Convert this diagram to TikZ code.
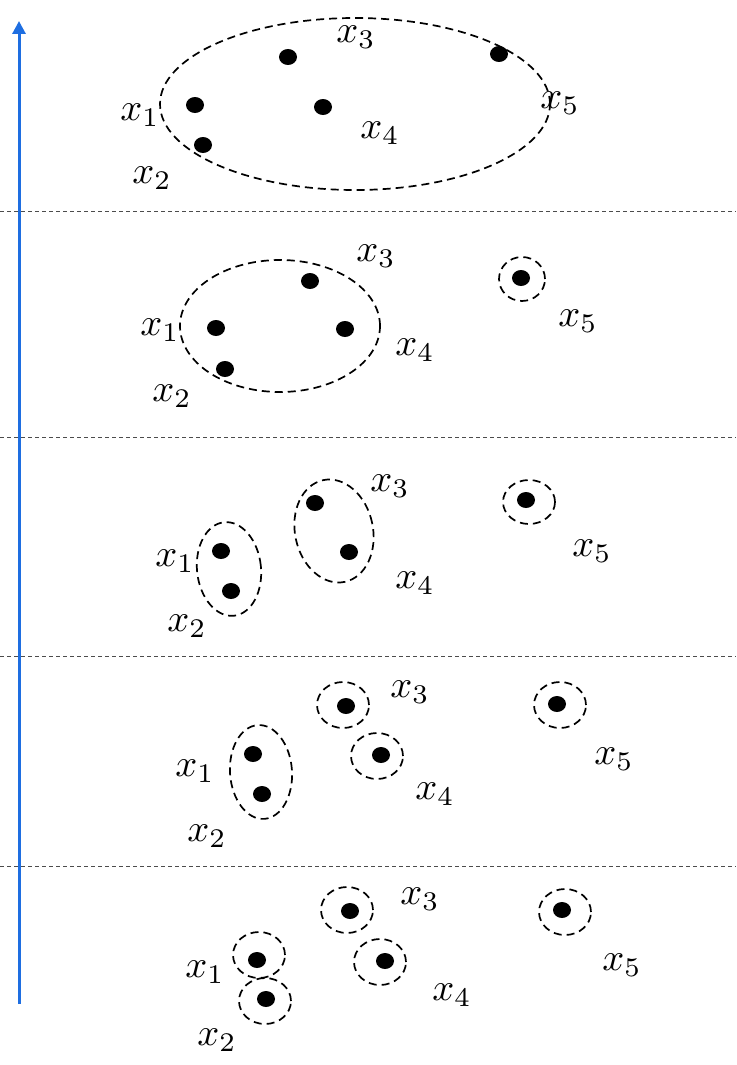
\documentclass[tikz,border=0pt]{standalone}
\usepackage{graphicx}
\usetikzlibrary{arrows.meta,shapes.geometric}
\definecolor{axisblue}{RGB}{30,110,225}
\newcommand{\lx}[1]{\scalebox{3.85}{$x_{#1}$}}
\tikzset{
  dot/.style={fill=black,ellipse,inner sep=0pt,minimum width=18pt,minimum height=16pt},
  grp/.style={draw,dashed,dash pattern=on 8pt off 5pt,line width=1.7pt,ellipse,inner sep=0pt},
  one/.style={grp,minimum width=50pt,minimum height=46pt},
  lab/.style={inner sep=0pt},
  sep/.style={draw=black!70,dash pattern=on 4pt off 3pt,line width=0.8pt},
  axis/.style={draw=axisblue,line width=3pt,-{Triangle[width=13pt,length=13pt]}}
}
\begin{document}
\begin{tikzpicture}[x=1pt,y=-1pt]
\useasboundingbox (0,0) rectangle (736,1065);
% axis
\coordinate (abot) at (19,1004);
\coordinate (atop) at (19,21);
\draw[axis] (abot) -- (atop);
% separators
\foreach \i/\yy in {1/211,2/437,3/656,4/866}{
  \coordinate (s\i l) at (0,\yy);
  \coordinate (s\i r) at (736,\yy);
  \draw[sep] (s\i l) -- (s\i r);
}
% ---------- level 1
\node[grp,minimum width=390pt,minimum height=172pt] (g1) at (355,104) {};
\node[dot] (a1) at (195,105) {};
\node[dot] (a2) at (203,145) {};
\node[dot] (a3) at (288,57) {};
\node[dot] (a4) at (323,107) {};
\node[dot] (a5) at (499,54) {};
\node[lab] (la1) at (140,115) {\lx1};
\node[lab] (la2) at (152,178) {\lx2};
\node[lab] (la3) at (356,37) {\lx3};
\node[lab] (la4) at (380,133) {\lx4};
\node[lab] (la5) at (560,103) {\lx5};
% ---------- level 2
\node[grp,minimum width=200pt,minimum height=132pt] (g2) at (280,326) {};
\node[dot] (b1) at (216,328) {};
\node[dot] (b2) at (225,369) {};
\node[dot] (b3) at (310,281) {};
\node[dot] (b4) at (345,329) {};
\node[dot] (b5) at (521,278) {};
\node[one,minimum width=46pt,minimum height=44pt] (c2) at (522,279) {};
\node[lab] (lb1) at (160,330) {\lx1};
\node[lab] (lb2) at (172,396) {\lx2};
\node[lab] (lb3) at (376,256) {\lx3};
\node[lab] (lb4) at (415,350) {\lx4};
\node[lab] (lb5) at (578,321) {\lx5};
% ---------- level 3
\node[grp,minimum width=64pt,minimum height=94pt,rotate=6] (g3a) at (229,569) {};
\node[grp,minimum width=78pt,minimum height=104pt,rotate=12] (g3b) at (334,531) {};
\node[dot] (c1) at (221,551) {};
\node[dot] (c2d) at (231,591) {};
\node[dot] (c3) at (315,503) {};
\node[dot] (c4) at (349,552) {};
\node[dot] (c5) at (526,500) {};
\node[one,minimum width=52pt,minimum height=44pt] (o3) at (529,502) {};
\node[lab] (lc1) at (175,561) {\lx1};
\node[lab] (lc2) at (187,626) {\lx2};
\node[lab] (lc3) at (390,486) {\lx3};
\node[lab] (lc4) at (415,583) {\lx4};
\node[lab] (lc5) at (592,551) {\lx5};
% ---------- level 4
\node[grp,minimum width=62pt,minimum height=94pt,rotate=4] (g4) at (261,772) {};
\node[dot] (d1) at (253,754) {};
\node[dot] (d2) at (262,794) {};
\node[dot] (d3) at (346,706) {};
\node[dot] (d4) at (381,755) {};
\node[dot] (d5) at (557,704) {};
\node[one,minimum width=52pt,minimum height=46pt] (o4c) at (343,705) {};
\node[one,minimum width=52pt,minimum height=46pt] (o4d) at (377,756) {};
\node[one,minimum width=52pt,minimum height=46pt] (o4e) at (560,705) {};
\node[lab] (ld1) at (195,771) {\lx1};
\node[lab] (ld2) at (207,836) {\lx2};
\node[lab] (ld3) at (410,692) {\lx3};
\node[lab] (ld4) at (435,794) {\lx4};
\node[lab] (ld5) at (614,759) {\lx5};
% ---------- level 5
\node[dot] (e1) at (257,960) {};
\node[dot] (e2) at (266,999) {};
\node[dot] (e3) at (350,911) {};
\node[dot] (e4) at (385,961) {};
\node[dot] (e5) at (562,910) {};
\node[one,minimum width=52pt,minimum height=46pt] (o5a) at (259,955) {};
\node[one,minimum width=52pt,minimum height=46pt] (o5b) at (265,1001) {};
\node[one,minimum width=52pt,minimum height=46pt] (o5c) at (347,910) {};
\node[one,minimum width=52pt,minimum height=46pt] (o5d) at (380,962) {};
\node[one,minimum width=52pt,minimum height=46pt] (o5e) at (565,912) {};
\node[lab] (le1) at (205,972) {\lx1};
\node[lab] (le2) at (217,1040) {\lx2};
\node[lab] (le3) at (420,899) {\lx3};
\node[lab] (le4) at (452,995) {\lx4};
\node[lab] (le5) at (622,965) {\lx5};
\end{tikzpicture}
\end{document}
